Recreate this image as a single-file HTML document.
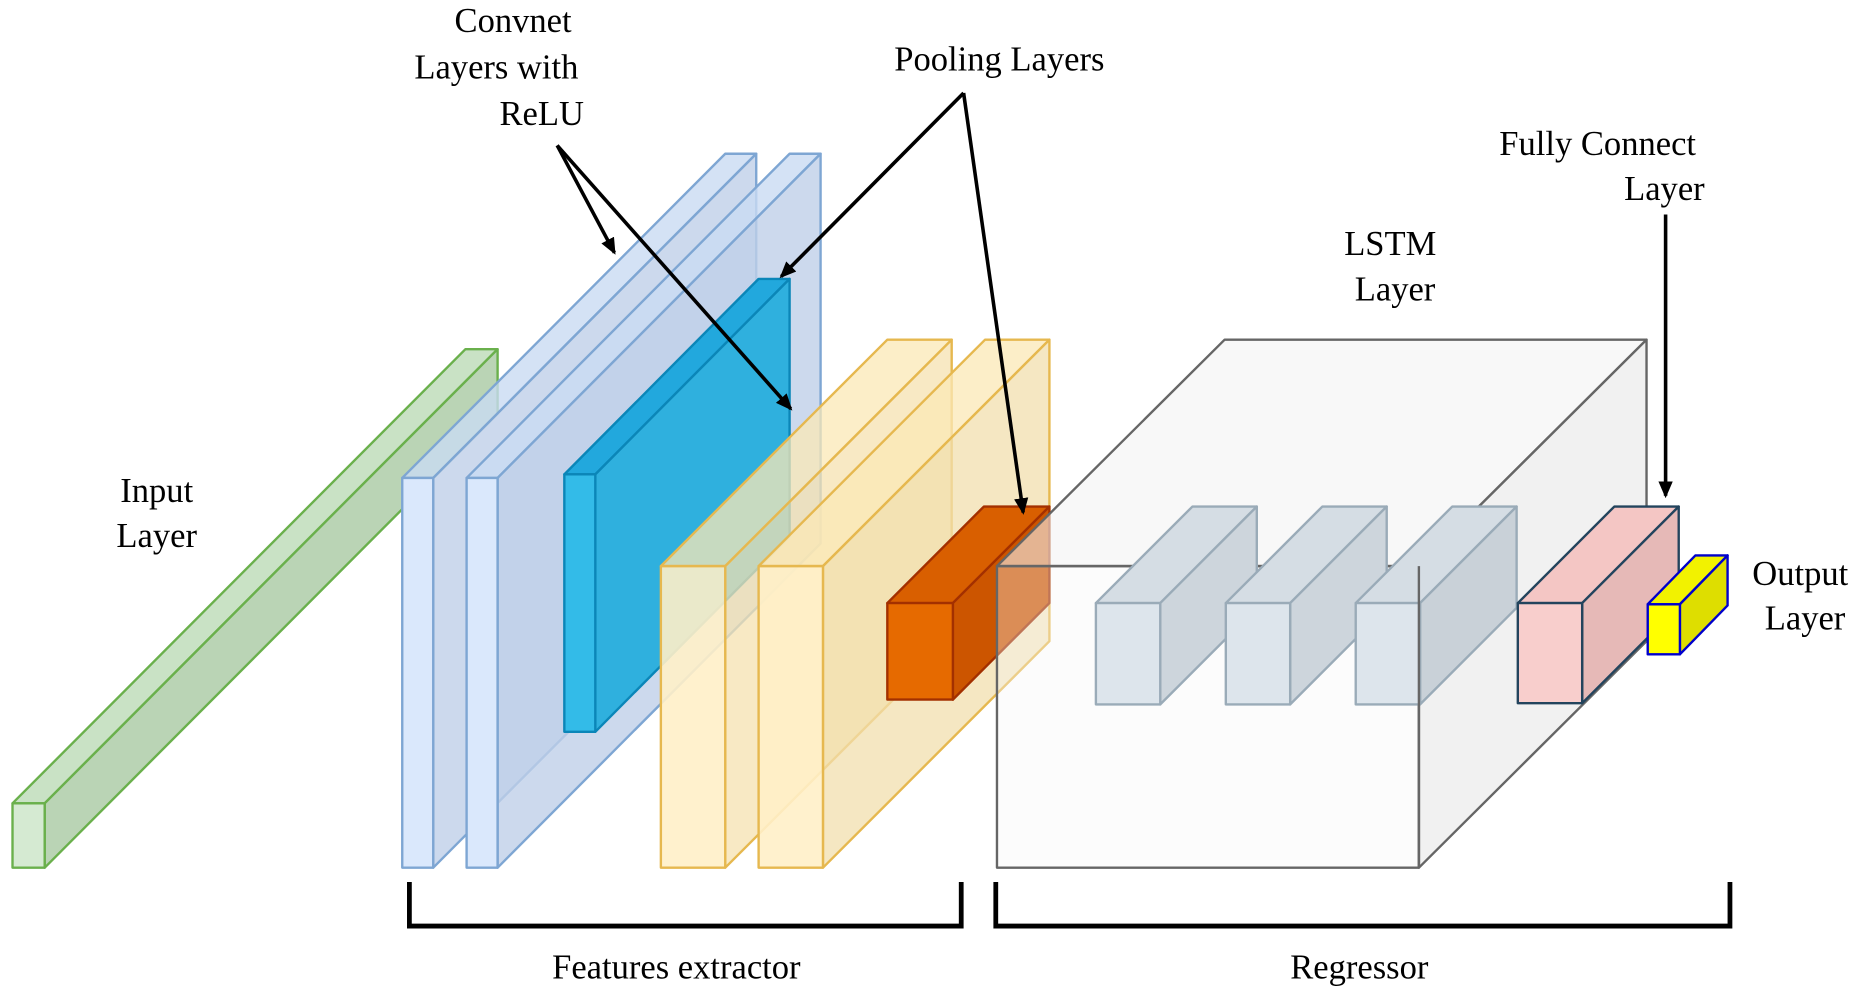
<!DOCTYPE html>
<html><head><meta charset="utf-8"><style>
html,body{margin:0;padding:0;background:#fff;}
svg{display:block;}
text{font-family:"Liberation Serif",serif;font-size:29px;fill:#000;}
</style></head><body>
<svg width="1870" height="994" viewBox="0 0 1568 834" xmlns="http://www.w3.org/2000/svg">
<defs><marker id="ah" markerWidth="14" markerHeight="12" refX="12" refY="6" orient="auto" markerUnits="userSpaceOnUse"><path d="M0,0 L14,6 L0,12 z" fill="#000"/></marker></defs>
<g stroke-width="2" stroke-linejoin="round">
<g stroke="#6ab04c">
<polygon points="10,674 390,293 417,293 37,674" fill="#c3dfbf" fill-opacity="0.9"/>
<polygon points="37,674 417,293 417,347 37,728" fill="#b2cfad" fill-opacity="0.9"/>
<rect x="10" y="674" width="27" height="54" fill="#d5ead2"/>
</g>
<g stroke="#7ea6d3">
<polygon points="337,401 608,129 634,129 363,401" fill="#c9dbf2" fill-opacity="0.8"/>
<polygon points="363,401 634,129 634,456 363,728" fill="#bfd0e9" fill-opacity="0.8"/>
<rect x="337" y="401" width="26" height="327" fill="#dae8fc"/>
</g>
<g stroke="#7ea6d3">
<polygon points="391,401 662,129 688,129 417,401" fill="#c9dbf2" fill-opacity="0.8"/>
<polygon points="417,401 688,129 688,456 417,728" fill="#bfd0e9" fill-opacity="0.8"/>
<rect x="391" y="401" width="26" height="327" fill="#dae8fc"/>
</g>
<g stroke="#0b86b8">
<polygon points="473,398 636,234 662,234 499,398" fill="#22a8dd"/>
<polygon points="499,398 662,234 662,450 499,614" fill="#2fb0de"/>
<rect x="473" y="398" width="26" height="216" fill="#33bbe8"/>
</g>
<g stroke="#e6b84f">
<polygon points="554,475 744,285 798,285 608,475" fill="#fbe8b5" fill-opacity="0.75"/>
<polygon points="608,475 798,285 798,538 608,728" fill="#f5e2b0" fill-opacity="0.75"/>
<rect x="554" y="475" width="54" height="253" fill="#fff0c8" fill-opacity="0.9"/>
</g>
<g stroke="#e6b84f">
<polygon points="636,475 826,285 880,285 690,475" fill="#fbe8b5" fill-opacity="0.75"/>
<polygon points="690,475 880,285 880,538 690,728" fill="#f2dfae" fill-opacity="0.75"/>
<rect x="636" y="475" width="54" height="253" fill="#fff0c8" fill-opacity="0.9"/>
</g>
<g stroke="#a33000">
<polygon points="744,506 825,425 880,425 799,506" fill="#d95f00"/>
<polygon points="799,506 880,425 880,506 799,587" fill="#cc5500"/>
<rect x="744" y="506" width="55" height="81" fill="#e66a00"/>
</g>
<g stroke="#666">
<polygon points="836,475 1027,285 1381,285 1190,475" fill="#f3f3f3" fill-opacity="0.6"/>
<polygon points="1190,475 1381,285 1381,538 1190,728" fill="#ebebeb" fill-opacity="0.7"/>
<rect x="836" y="475" width="354" height="253" fill="#f7f7f7" fill-opacity="0.35"/>
</g>
<g stroke="#9aabb8">
<polygon points="919,506 1000,425 1054,425 973,506" fill="#d5dde4"/>
<polygon points="973,506 1054,425 1054,510 973,591" fill="#cdd5dc"/>
<rect x="919" y="506" width="54" height="85" fill="#dde5ec"/>
<polygon points="1028,506 1109,425 1163,425 1082,506" fill="#d5dde4"/>
<polygon points="1082,506 1163,425 1163,510 1082,591" fill="#cdd5dc"/>
<rect x="1028" y="506" width="54" height="85" fill="#dde5ec"/>
<polygon points="1137,506 1218,425 1272,425 1191,506" fill="#d5dde4"/>
<polygon points="1191,506 1272,425 1272,510 1191,591" fill="#c9d1d8"/>
<rect x="1137" y="506" width="54" height="85" fill="#dde5ec"/>
</g>
<line x1="1190" y1="475" x2="1190" y2="728" stroke="#666"/>
<g stroke="#23445d">
<polygon points="1273,506 1354,425 1408,425 1327,506" fill="#f4c6c4"/>
<polygon points="1327,506 1408,425 1408,509 1327,590" fill="#e6b9b7"/>
<rect x="1273" y="506" width="54" height="84" fill="#f8cecc"/>
</g>
<g stroke="#0000cc">
<polygon points="1382,507 1422,466 1449,466 1409,507" fill="#f2f200"/>
<polygon points="1409,507 1449,466 1449,508 1409,549" fill="#dede00"/>
<rect x="1382" y="507" width="27" height="42" fill="#ffff00"/>
</g>
</g>
<g stroke="#000" stroke-width="3" fill="none" marker-end="url(#ah)">
<line x1="467" y1="122" x2="515" y2="212"/>
<line x1="467" y1="122" x2="663" y2="343"/>
<line x1="808" y1="78" x2="655" y2="232"/>
<line x1="808" y1="78" x2="858" y2="430"/>
<line x1="1397" y1="180" x2="1397" y2="416"/>
</g>
<g stroke="#000" stroke-width="4" fill="none">
<polyline points="343,740 343,777 806,777 806,740"/>
<polyline points="835,740 835,777 1451,777 1451,740"/>
</g>
<g text-anchor="middle">
<text x="430" y="27">Convnet</text>
<text x="416" y="66">Layers with</text>
<text x="454" y="105">ReLU</text>
<text x="838" y="59">Pooling Layers</text>
<text x="1340" y="130">Fully Connect</text>
<text x="1396" y="168">Layer</text>
<text x="1166" y="214">LSTM</text>
<text x="1170" y="252">Layer</text>
<text x="131" y="421">Input</text>
<text x="131" y="459">Layer</text>
<text x="1510" y="491">Output</text>
<text x="1514" y="528">Layer</text>
<text x="567" y="821">Features extractor</text>
<text x="1140" y="821">Regressor</text>
</g>
</svg>
</body></html>
